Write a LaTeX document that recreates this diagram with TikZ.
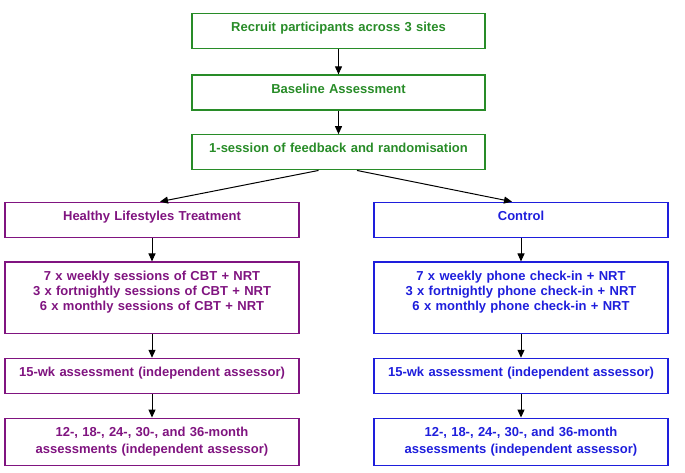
\documentclass[tikz,border=0pt]{standalone}
\usepackage{fontspec}
\setmainfont{Liberation Sans}
\usetikzlibrary{positioning,arrows.meta}

\definecolor{stagegreen}{RGB}{40,140,40}
\definecolor{treatpurple}{RGB}{128,20,128}
\definecolor{ctrlblue}{RGB}{30,30,220}

\tikzset{%
  % Specifications for style of nodes:
         base/.style =  { rectangle, draw, line width=1.3pt, text width=294pt, inner xsep=0pt, inner ysep=0pt, align=center, font=\fontsize{13}{15}\selectfont\bfseries, text height=18pt, text depth=17pt },
         stage/.style = { base, draw=stagegreen, text=stagegreen, text width=293pt },
         treat/.style = { base, draw=treatpurple, text=treatpurple },
         ctrl/.style =  { base, draw=ctrlblue, text=ctrlblue },
         flow/.style =  { -{Triangle[length=8pt,width=7pt]}, line width=1pt },
}

\begin{document}
\begin{tikzpicture}[x=1pt, y=1pt]
    \useasboundingbox (0,0) rectangle (685,-472);

    % Draw nodes
    \node (recruit)     [stage] at (338.5,-31.2)             {Recruit participants across 3 sites};
    \node (baseline)    [stage, below=25pt of recruit]       {Baseline Assessment};
    \node (rand)        [stage, below=23.5pt of baseline]    {1-session of feedback and randomisation};

    \node (hlt)         [treat] at (152,-219.8)              {Healthy Lifestyles Treatment};
    \node (hlt_cbt)     [treat, below=23.5pt of hlt, text depth=53.5pt]
                        {7 x weekly sessions of CBT + NRT \\ 3 x fortnightly sessions of CBT + NRT \\ 6 x monthly sessions of CBT + NRT};
    \node (hlt_15)      [treat, below=23.5pt of hlt_cbt]     {15-wk assessment (independent assessor)};
    \node (hlt_fu)      [treat, below=23.5pt of hlt_15, text depth=29pt]
                        {12-, 18-, 24-, 30-, and 36-month \\[2pt] assessments (independent assessor)};

    \node (ctrl)        [ctrl] at (521,-219.8)               {Control};
    \node (ctrl_phone)  [ctrl, below=23.5pt of ctrl, text depth=53.5pt]
                        {7 x weekly phone check-in + NRT \\ 3 x fortnightly phone check-in + NRT \\ 6 x monthly phone check-in + NRT};
    \node (ctrl_15)     [ctrl, below=23.5pt of ctrl_phone]   {15-wk assessment (independent assessor)};
    \node (ctrl_fu)     [ctrl, below=23.5pt of ctrl_15, text depth=29pt]
                        {12-, 18-, 24-, 30-, and 36-month \\[2pt] assessments (independent assessor)};

    % Draw arrows
    \draw[flow]           (recruit) -- (baseline);
    \draw[flow]           (baseline) -- (rand);
    \draw[flow]           ([xshift=-20pt]rand.south) -- ([xshift=8pt]hlt.north);
    \draw[flow]           ([xshift=18.5pt]rand.south) -- ([xshift=-9pt]ctrl.north);

    \draw[flow]           (hlt) -- (hlt_cbt);
    \draw[flow]           (hlt_cbt) -- (hlt_15);
    \draw[flow]           (hlt_15) -- (hlt_fu);

    \draw[flow]           (ctrl) -- (ctrl_phone);
    \draw[flow]           (ctrl_phone) -- (ctrl_15);
    \draw[flow]           (ctrl_15) -- (ctrl_fu);
\end{tikzpicture}
\end{document}
